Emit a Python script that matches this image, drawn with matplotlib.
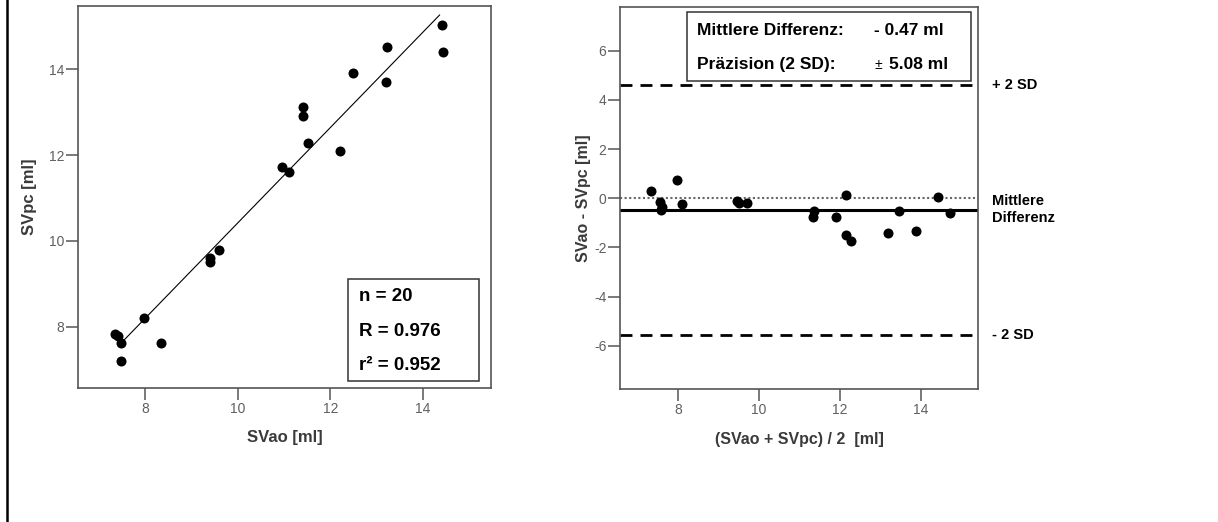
import numpy as np
import matplotlib
matplotlib.use("Agg")
import matplotlib.pyplot as plt
from matplotlib.patches import Rectangle
import matplotlib.transforms as mtrans

plt.rcParams['font.family'] = ['Liberation Sans', 'DejaVu Sans']
plt.rcParams['axes.unicode_minus'] = False

# stroke volumes
svao = [14.42, 14.44, 13.22, 13.21, 12.49, 11.41, 11.41, 11.51, 12.21, 10.96,
        11.10, 9.60, 9.40, 9.40, 7.98, 7.35, 7.41, 7.48, 7.48, 8.35]
svpc = [15.03, 14.40, 14.53, 13.71, 13.91, 13.13, 12.91, 12.28, 12.09, 11.72,
        11.60, 9.80, 9.61, 9.50, 8.20, 7.82, 7.78, 7.61, 7.19, 7.61]

stats_lines = ["n = 20", "R = 0.976", "r\u00b2 = 0.952"]
mean_diff = -0.47
prec_2sd = 5.08

xticks = [8, 10, 12, 14]
yticks_left = [8, 10, 12, 14]
yticks_right = [-6, -4, -2, 0, 2, 4, 6]

svao = np.array(svao)
svpc = np.array(svpc)
avg = (svao + svpc) / 2
diff = svao - svpc

gray = '#555555'
lab = '#3a3a3a'

fig = plt.figure(figsize=(12.18, 5.22), dpi=100)
ax1 = fig.add_axes([0.0640, 0.2567, 0.3391, 0.7318])
ax2 = fig.add_axes([0.5093, 0.2542, 0.2937, 0.7318])

# frame line on the left edge of the picture
fig.add_artist(plt.Line2D([0.0058, 0.0058], [0, 1], color='black', lw=1.8))

def style(ax):
    for s in ax.spines.values():
        s.set_color(gray)
        s.set_linewidth(1.2)
    ax.tick_params(direction='out', length=8.5, width=1.1, color=gray,
                   labelcolor='#606060', labelsize=10, pad=1.5)

# ---- scatter with regression line
style(ax1)
ax1.scatter(svao, svpc, s=52, color='black', zorder=3, linewidths=0)
k, d = np.polyfit(svao, svpc, 1)
xs = np.array([svao.min() + 0.15, svao.max() - 0.08])
ax1.plot(xs, k * xs + d, color='black', lw=0.8)
ax1.set_xlim(6.55, 15.47)
ax1.set_ylim(6.57, 15.48)
ax1.set_xticks(xticks)
ax1.set_yticks(yticks_left)
ax1.set_xlabel("SVao [ml]", fontsize=12, fontweight='bold', color=lab)
ax1.set_ylabel("SVpc [ml]", fontsize=12, fontweight='bold', color=lab)
ax1.xaxis.set_label_coords(0.5, -0.11)
ax1.yaxis.set_label_coords(-0.098, 0.5)

ax1.add_patch(Rectangle((0.653, 0.018), 0.319, 0.268, transform=ax1.transAxes,
                        fill=False, edgecolor='#333333', lw=1.1, zorder=4))
for t, y in zip(stats_lines, [0.239, 0.147, 0.058]):
    ax1.text(0.681, y, t, transform=ax1.transAxes, fontsize=13.5,
             fontweight='bold', va='center', ha='left', zorder=5)

# ---- Bland-Altman
style(ax2)
ax2.axhline(0, color='#666666', lw=1.5, ls=(0, (1, 1.2)))
ax2.axhline(mean_diff, color='black', lw=2.2)
for v in [mean_diff + prec_2sd, mean_diff - prec_2sd]:
    ax2.axhline(v, color='black', lw=2.0, ls=(0, (4.3, 2.9)))
ax2.scatter(avg, diff, s=52, color='black', zorder=3, linewidths=0)
ax2.set_xlim(6.57, 15.42)
ax2.set_ylim(-7.77, 7.77)
ax2.set_xticks(xticks)
ax2.set_yticks(yticks_right)
ax2.set_xlabel("(SVao + SVpc) / 2  [ml]", fontsize=11.5, fontweight='bold', color=lab)
ax2.set_ylabel("SVao - SVpc [ml]", fontsize=11.5, fontweight='bold', color=lab)
ax2.xaxis.set_label_coords(0.5, -0.111)
ax2.yaxis.set_label_coords(-0.082, 0.5)

ax2.add_patch(Rectangle((0.186, 0.808), 0.794, 0.179, transform=ax2.transAxes,
                        facecolor='white', edgecolor='#333333', lw=1.1, zorder=4))
ax2.text(0.214, 0.938, "Mittlere Differenz:", transform=ax2.transAxes,
         fontsize=12.5, fontweight='bold', va='center', zorder=5)
ax2.text(0.710, 0.938, "- %.2f ml" % abs(mean_diff), transform=ax2.transAxes,
         fontsize=12.5, fontweight='bold', va='center', zorder=5)
ax2.text(0.214, 0.851, "Pr\u00e4zision (2 SD):", transform=ax2.transAxes,
         fontsize=12.5, fontweight='bold', va='center', zorder=5)
ax2.text(0.710, 0.848, "\u00b1", transform=ax2.transAxes,
         fontsize=10, va='center', zorder=5)
ax2.text(0.751, 0.851, "%.2f ml" % prec_2sd, transform=ax2.transAxes,
         fontsize=12.5, fontweight='bold', va='center', zorder=5)

tr = mtrans.blended_transform_factory(ax2.transAxes, ax2.transData)
ax2.text(1.038, mean_diff + prec_2sd, "+ 2 SD", transform=tr, fontsize=10.5,
         fontweight='bold', va='center', clip_on=False)
ax2.text(1.040, mean_diff, "Mittlere\nDifferenz", transform=tr, fontsize=10.5,
         fontweight='bold', va='center', linespacing=1.25, clip_on=False)
ax2.text(1.040, mean_diff - prec_2sd, "- 2 SD", transform=tr, fontsize=10.5,
         fontweight='bold', va='center', clip_on=False)

fig.savefig("out.png", dpi=100, facecolor='white')
